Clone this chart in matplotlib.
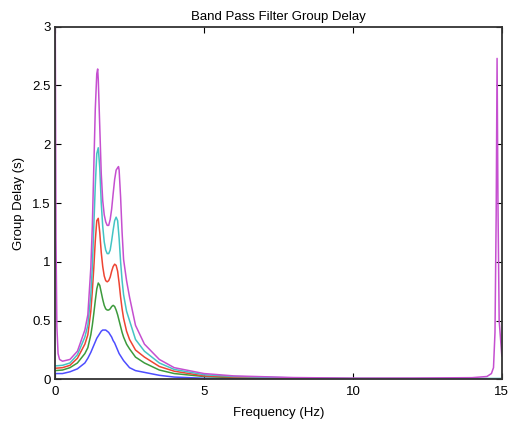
import matplotlib
matplotlib.use("Agg")
import matplotlib.pyplot as plt

# shared frequency grid (Hz) for the four lower-order filters
freq = [0, 0.25, 0.5, 0.75, 1.0, 1.1, 1.2, 1.25, 1.3, 1.35, 1.4, 1.45, 1.5,
        1.55, 1.6, 1.65, 1.7, 1.75, 1.8, 1.85, 1.9, 1.95, 2.0, 2.05, 2.1,
        2.15, 2.2, 2.25, 2.3, 2.4, 2.5, 2.7, 3.0, 3.5, 4.0, 5.0, 6.0, 8.0,
        10.0, 12.0, 14.0, 15.0]

gd_blue = [0.05, 0.05, 0.065, 0.09, 0.14, 0.18, 0.23, 0.26, 0.29, 0.32,
           0.35, 0.37, 0.39, 0.41, 0.42, 0.42, 0.42, 0.41, 0.40, 0.38,
           0.36, 0.33, 0.31, 0.28, 0.25, 0.22, 0.20, 0.18, 0.16, 0.13,
           0.10, 0.075, 0.06, 0.035, 0.02, 0.01, 0.007, 0.004, 0.003,
           0.002, 0.002, 0.002]

gd_green = [0.075, 0.08, 0.10, 0.14, 0.22, 0.27, 0.38, 0.46, 0.56, 0.67,
            0.77, 0.82, 0.80, 0.74, 0.68, 0.63, 0.60, 0.59, 0.59, 0.60,
            0.62, 0.63, 0.62, 0.59, 0.55, 0.50, 0.45, 0.40, 0.36, 0.30,
            0.26, 0.19, 0.14, 0.08, 0.05, 0.025, 0.015, 0.008, 0.005,
            0.004, 0.004, 0.004]

gd_red = [0.095, 0.10, 0.12, 0.18, 0.30, 0.38, 0.58, 0.75, 0.95, 1.18,
          1.35, 1.37, 1.25, 1.08, 0.96, 0.88, 0.84, 0.83, 0.84, 0.87,
          0.92, 0.96, 0.98, 0.97, 0.92, 0.82, 0.70, 0.60, 0.52, 0.41,
          0.34, 0.25, 0.19, 0.11, 0.07, 0.03, 0.02, 0.01, 0.007,
          0.006, 0.006, 0.006]

gd_cyan = [0.115, 0.12, 0.14, 0.21, 0.36, 0.46, 0.72, 0.95, 1.30, 1.65,
           1.92, 1.97, 1.80, 1.50, 1.30, 1.17, 1.10, 1.07, 1.07, 1.10,
           1.18, 1.27, 1.35, 1.38, 1.35, 1.20, 1.00, 0.84, 0.72, 0.58,
           0.50, 0.34, 0.24, 0.14, 0.085, 0.04, 0.025, 0.013, 0.009,
           0.008, 0.008, 0.008]

# highest order filter has its own grid (edge spikes at 0 and near 15 Hz)
freq_m = [0, 0.03, 0.06, 0.1, 0.15, 0.25, 0.5, 0.75, 1.0, 1.1, 1.2, 1.25,
          1.3, 1.35, 1.4, 1.43, 1.45, 1.5, 1.55, 1.6, 1.65, 1.7, 1.75, 1.8,
          1.85, 1.9, 1.95, 2.0, 2.05, 2.1, 2.13, 2.15, 2.2, 2.25, 2.3, 2.4,
          2.5, 2.7, 3.0, 3.5, 4.0, 5.0, 6.0, 8.0, 10.0, 12.0, 14.0, 14.5,
          14.65, 14.72, 14.77, 14.81, 14.84, 14.87, 14.91, 15.0]

gd_mag = [3.5, 1.2, 0.45, 0.22, 0.17, 0.155, 0.17, 0.24, 0.42, 0.55, 0.95,
          1.30, 1.80, 2.30, 2.60, 2.64, 2.55, 2.15, 1.75, 1.52, 1.40, 1.34,
          1.31, 1.31, 1.36, 1.45, 1.58, 1.70, 1.78, 1.80, 1.81, 1.78, 1.55,
          1.25, 1.02, 0.84, 0.70, 0.46, 0.30, 0.17, 0.10, 0.05, 0.03, 0.016,
          0.011, 0.012, 0.015, 0.025, 0.05, 0.1, 0.4, 1.4, 2.73, 1.5, 0.5,
          0.2]

series = [
    (freq, gd_blue, '#4d4dff'),
    (freq, gd_green, '#3c9a3c'),
    (freq, gd_red, '#ee4433'),
    (freq, gd_cyan, '#44c4c4'),
    (freq_m, gd_mag, '#c54fd0'),
]

plt.rcParams['font.family'] = ['Liberation Sans', 'DejaVu Sans']

fig = plt.figure(figsize=(5.1, 4.23), dpi=100)
ax = fig.add_axes([0.108, 0.103, 0.876, 0.834])

for x, y, c in series:
    ax.plot(x, y, color=c, lw=1.1)

ax.set_xlim(0, 15)
ax.set_ylim(0, 3)
ax.set_xticks([0, 5, 10, 15])
ax.set_yticks([0, 0.5, 1, 1.5, 2, 2.5, 3])
ax.set_yticklabels(['0', '0.5', '1', '1.5', '2', '2.5', '3'])
ax.tick_params(direction='in', top=True, right=True, length=4,
               labelsize=9.5, width=0.8, pad=3)
ax.tick_params(axis='x', pad=5)
for s in ax.spines.values():
    s.set_linewidth(1.3)
    s.set_color('#333333')

ax.set_title('Band Pass Filter Group Delay', fontsize=9.5, pad=5)
ax.set_xlabel('Frequency (Hz)', fontsize=9.5, labelpad=6)
ax.set_ylabel('Group Delay (s)', fontsize=9.5, labelpad=5)

fig.savefig('out.png', dpi=100)
